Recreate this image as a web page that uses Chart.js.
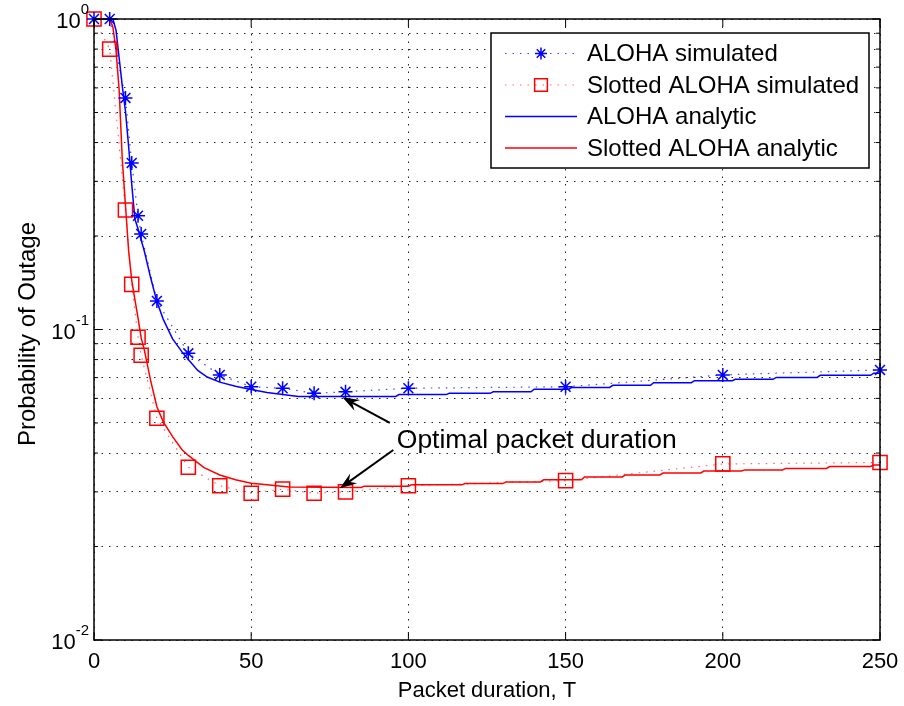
<!DOCTYPE html>
<html>
<head>
<meta charset="utf-8">
<script src="https://cdn.jsdelivr.net/npm/chart.js@4.4.1/dist/chart.umd.min.js"></script>
<style>
  html, body { margin: 0; padding: 0; background: #fff; }
  #wrap { width: 904px; height: 706px; }
</style>
</head>
<body>
<div id="wrap"><canvas id="myChart"></canvas></div>
<script>
// packet durations where the simulation was run
const simT = [0, 5, 10, 12, 14, 15, 20, 30, 40, 50, 60, 70, 80, 100, 150, 200, 250];
const alohaSim = [1.0, 1.0, 0.557, 0.344, 0.2325, 0.203, 0.1236, 0.0838, 0.0714, 0.0654, 0.0647, 0.0623, 0.063, 0.0647, 0.0654, 0.0714, 0.0741];
const slottedSim = [1.0, 0.80, 0.2426, 0.1398, 0.0944, 0.0826, 0.0518, 0.036, 0.0314, 0.0297, 0.0306, 0.0297, 0.030, 0.0314, 0.0326, 0.0369, 0.0373];

// analytic curves (steps included)
const alohaT = [0, 6, 7, 8, 9, 10, 11, 12, 13, 14, 15, 16, 18, 20, 22, 25, 28, 30, 33, 36, 40, 45, 50, 55, 60, 65,
  96, 97, 112, 113, 126, 127, 139, 140, 151, 152, 164, 165, 177, 178, 190, 191, 203, 204, 216, 217, 230, 231, 247, 248, 250];
const alohaAnalytic = [1, 1, 0.92, 0.749, 0.608, 0.506, 0.390, 0.294, 0.227, 0.211, 0.194, 0.179, 0.147, 0.123, 0.108, 0.0933, 0.0847, 0.080, 0.0738, 0.0703, 0.0677, 0.0657, 0.0641, 0.0627, 0.0617, 0.0609,
  0.0609, 0.0617, 0.0617, 0.0623, 0.0623, 0.0630, 0.0630, 0.0642, 0.0642, 0.0651, 0.0651, 0.0661, 0.0661, 0.0674, 0.0674, 0.0684, 0.0684, 0.0691, 0.0691, 0.0701, 0.0701, 0.0712, 0.0712, 0.0723, 0.0723];
const slottedT = [0, 5, 6, 7, 8, 9, 10, 11, 12, 13, 14, 15, 16, 18, 20, 22, 25, 28, 30, 35, 40, 45, 50, 55, 62, 85,
  86, 100, 101, 117, 118, 130, 131, 142, 143, 155, 156, 168, 169, 180, 181, 193, 194, 206, 207, 219, 220, 233, 234, 247, 248, 250];
const slottedAnalytic = [1, 1, 0.943, 0.795, 0.59, 0.352, 0.252, 0.180, 0.144, 0.125, 0.109, 0.094, 0.086, 0.0686, 0.0564, 0.0505, 0.0452, 0.0410, 0.0393, 0.0359, 0.0340, 0.0328, 0.0320, 0.0316, 0.0311, 0.0310,
  0.0313, 0.0313, 0.0316, 0.0316, 0.0319, 0.0319, 0.0323, 0.0323, 0.0328, 0.0328, 0.0335, 0.0335, 0.0340, 0.0340, 0.0345, 0.0345, 0.0350, 0.0350, 0.0353, 0.0353, 0.0357, 0.0357, 0.0362, 0.0362, 0.0366, 0.0366];

const xTicks = [0, 50, 100, 150, 200, 250];
const yTicks = [0.01, 0.02, 0.03, 0.04, 0.05, 0.06, 0.07, 0.08, 0.09, 0.1, 0.2, 0.3, 0.4, 0.5, 0.6, 0.7, 0.8, 0.9, 1];
const yDecades = [0.01, 0.1, 1];

const seriesLabels = ['ALOHA simulated', 'Slotted ALOHA simulated', 'ALOHA analytic', 'Slotted ALOHA analytic'];
const xTitle = 'Packet duration, T';
const yTitle = 'Probability of Outage';
const noteText = 'Optimal packet duration';
const noteAnchor = [96.3, 0.0415];
const arrowTails = [[94.1, 0.050], [95.2, 0.0409]];
const arrowHeads = [[79, 0.0605], [78.2, 0.0308]];

const FONT = "'Liberation Sans', Arial, Helvetica, sans-serif";
const BLUE = '#0000ff';
const RED = '#ff0000';
const DOTS = [1.5, 6];

const pts = (xs, ys) => xs.map((t, i) => ({ x: t, y: ys[i] }));

const datasets = [
  {
    label: seriesLabels[0], data: pts(simT, alohaSim),
    borderColor: 'rgba(0,0,255,0.75)', borderWidth: 1.2, borderDash: DOTS,
    pointStyle: 'star', pointRadius: 7, pointBorderColor: BLUE, pointBorderWidth: 1.5,
    pointBackgroundColor: BLUE, clip: false
  },
  {
    label: seriesLabels[1], data: pts(simT, slottedSim),
    borderColor: 'rgba(255,0,0,0.6)', borderWidth: 1.2, borderDash: DOTS,
    pointStyle: 'rect', pointRadius: 10, pointBorderColor: RED, pointBorderWidth: 1.5,
    pointBackgroundColor: 'rgba(0,0,0,0)', clip: false
  },
  {
    label: seriesLabels[2], data: pts(alohaT, alohaAnalytic),
    borderColor: BLUE, borderWidth: 1.5, pointRadius: 0
  },
  {
    label: seriesLabels[3], data: pts(slottedT, slottedAnalytic),
    borderColor: RED, borderWidth: 1.5, pointRadius: 0
  }
];

function drawArrow(ctx, x0, y0, x1, y1) {
  const ang = Math.atan2(y1 - y0, x1 - x0);
  const len = 17, half = 6;
  const bx = x1 - len * Math.cos(ang), by = y1 - len * Math.sin(ang);
  ctx.beginPath();
  ctx.moveTo(x0, y0);
  ctx.lineTo(x1 - 8 * Math.cos(ang), y1 - 8 * Math.sin(ang));
  ctx.stroke();
  ctx.beginPath();
  ctx.moveTo(x1, y1);
  ctx.lineTo(bx - half * Math.sin(ang), by + half * Math.cos(ang));
  ctx.lineTo(x1 - 0.65 * len * Math.cos(ang), y1 - 0.65 * len * Math.sin(ang));
  ctx.lineTo(bx + half * Math.sin(ang), by - half * Math.cos(ang));
  ctx.closePath();
  ctx.fill();
}

const matlabAxes = {
  id: 'matlabAxes',
  afterDatasetsDraw(chart) {
    const { ctx, chartArea: a, scales: { x, y } } = chart;
    ctx.save();

    // box round the axes
    ctx.strokeStyle = '#000';
    ctx.lineWidth = 1.5;
    ctx.strokeRect(a.left, a.top, a.right - a.left, a.bottom - a.top);

    // inward ticks on all four sides
    ctx.lineWidth = 1;
    ctx.beginPath();
    xTicks.forEach(v => {
      const px = x.getPixelForValue(v);
      ctx.moveTo(px, a.bottom); ctx.lineTo(px, a.bottom - 8);
      ctx.moveTo(px, a.top); ctx.lineTo(px, a.top + 8);
    });
    yTicks.forEach(v => {
      const py = y.getPixelForValue(v);
      const len = yDecades.includes(v) ? 8 : 4;
      ctx.moveTo(a.left, py); ctx.lineTo(a.left + len, py);
      ctx.moveTo(a.right, py); ctx.lineTo(a.right - len, py);
    });
    ctx.stroke();

    // tick labels
    ctx.fillStyle = '#000';
    ctx.font = '22px ' + FONT;
    ctx.textAlign = 'center';
    ctx.textBaseline = 'alphabetic';
    xTicks.forEach(v => ctx.fillText(String(v), x.getPixelForValue(v), a.bottom + 28));

    yDecades.forEach(v => {
      const py = y.getPixelForValue(v);
      const ex = String(Math.round(Math.log10(v)));
      ctx.font = '15px ' + FONT;
      const ew = ctx.measureText(ex).width;
      ctx.textAlign = 'left';
      ctx.fillText(ex, a.left - 5 - ew, py - 5);
      ctx.font = '22px ' + FONT;
      ctx.textAlign = 'right';
      ctx.fillText('10', a.left - 5 - ew, py + 9);
    });

    // axis titles
    ctx.font = '22px ' + FONT;
    ctx.textAlign = 'center';
    ctx.fillText(xTitle, (a.left + a.right) / 2, 697);
    ctx.save();
    ctx.font = '24px ' + FONT;
    ctx.translate(35, 334);
    ctx.rotate(-Math.PI / 2);
    ctx.fillText(yTitle, 0, 0);
    ctx.restore();

    // annotation
    ctx.strokeStyle = '#000';
    ctx.fillStyle = '#000';
    ctx.lineWidth = 2;
    arrowTails.forEach((t, i) => {
      const h = arrowHeads[i];
      drawArrow(ctx, x.getPixelForValue(t[0]), y.getPixelForValue(t[1]),
        x.getPixelForValue(h[0]), y.getPixelForValue(h[1]));
    });
    ctx.font = '26.5px ' + FONT;
    ctx.textAlign = 'left';
    ctx.fillText(noteText, x.getPixelForValue(noteAnchor[0]), y.getPixelForValue(noteAnchor[1]));

    // legend
    const bx = 491, by = 33, bw = 378, bh = 135;
    ctx.fillStyle = '#fff';
    ctx.fillRect(bx, by, bw, bh);
    ctx.strokeStyle = '#000';
    ctx.lineWidth = 1.5;
    ctx.strokeRect(bx, by, bw, bh);
    chart.data.datasets.forEach((ds, i) => {
      const ry = 53.5 + i * 31.5;
      ctx.save();
      ctx.strokeStyle = ds.borderColor;
      ctx.lineWidth = ds.borderWidth;
      ctx.setLineDash(ds.borderDash || []);
      ctx.beginPath();
      ctx.moveTo(505, ry); ctx.lineTo(577, ry);
      ctx.stroke();
      ctx.setLineDash([]);
      if (ds.pointRadius > 0) {
        ctx.strokeStyle = ds.pointBorderColor;
        ctx.fillStyle = ds.pointBackgroundColor;
        ctx.lineWidth = ds.pointBorderWidth;
        Chart.helpers.drawPoint(ctx, {
          pointStyle: ds.pointStyle,
          radius: ds.pointStyle === 'rect' ? 9 : 6,
          rotation: 0,
          borderWidth: ds.pointBorderWidth
        }, 541, ry);
      }
      ctx.restore();
      ctx.fillStyle = '#000';
      ctx.font = '24px ' + FONT;
      ctx.textAlign = 'left';
      ctx.textBaseline = 'middle';
      ctx.fillText(ds.label, 587, ry + 1);
    });
    ctx.restore();
  }
};

const ctxOutage = document.getElementById('myChart').getContext('2d');
const outageChart = new Chart(ctxOutage, {
  type: 'line',
  data: { datasets: datasets },
  options: {
    responsive: true,
    maintainAspectRatio: false,
    animation: false,
    layout: { padding: { left: 0, top: 19, right: 24, bottom: 0 } },
    elements: { line: { tension: 0 } },
    scales: {
      x: {
        type: 'linear', min: 0, max: 250,
        afterBuildTicks: s => { s.ticks = xTicks.map(v => ({ value: v })); },
        afterFit: s => { s.height = 66; },
        ticks: { display: false },
        grid: { color: 'rgba(0,0,0,0.85)', lineWidth: 1, drawTicks: false },
        border: { display: false, dash: DOTS }
      },
      y: {
        type: 'logarithmic', min: 0.01, max: 1,
        afterBuildTicks: s => { s.ticks = yTicks.map(v => ({ value: v })); },
        afterFit: s => { s.width = 94; },
        ticks: { display: false },
        grid: { color: 'rgba(0,0,0,0.85)', lineWidth: 1, drawTicks: false },
        border: { display: false, dash: DOTS }
      }
    },
    plugins: {
      legend: { display: false },
      tooltip: { enabled: false }
    }
  },
  plugins: [matlabAxes]
});
</script>
</body>
</html>
